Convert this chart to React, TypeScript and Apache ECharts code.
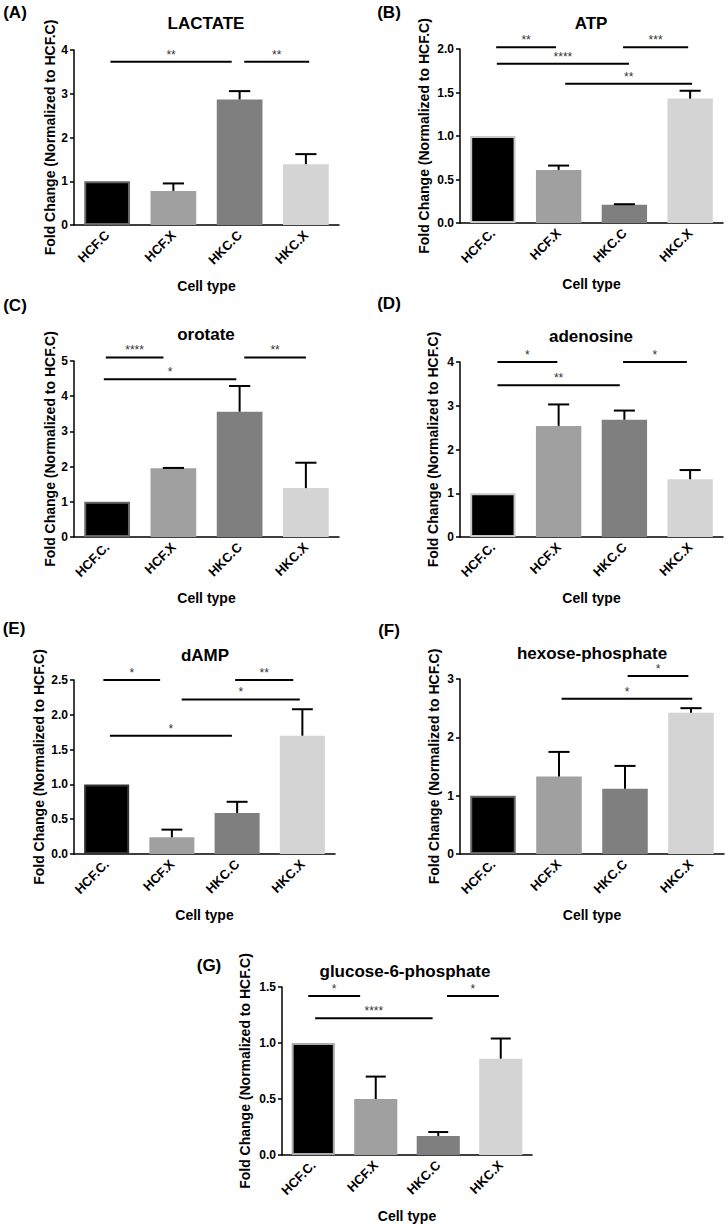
import React, { useEffect, useRef } from "react";
import * as echarts from "echarts";

// ---------- data ----------
const catsA = ["HCF.C", "HCF.X", "HKC.C", "HKC.X"];
const catsOther = ["HCF.C.", "HCF.X", "HKC.C", "HKC.X"];
const barColors = ["#000000", "#a0a0a0", "#7f7f7f", "#d4d4d4"];

const panelLabels = ["(A)", "(B)", "(C)", "(D)", "(E)", "(F)", "(G)"];
const panelTitles = ["LACTATE", "ATP", "orotate", "adenosine", "dAMP", "hexose-phosphate", "glucose-6-phosphate"];

const lactateMean = [1.0, 0.78, 2.87, 1.39];
const lactateSem = [0, 0.17, 0.19, 0.23];
const lactateSig = [[0.05, 1.88, 3.73], [2.07, 3.05, 3.73]];
const lactateStars = ["**", "**"];

const atpMean = [1.0, 0.61, 0.21, 1.43];
const atpSem = [0, 0.05, 0.006, 0.09];
const atpSig = [[0.05, 0.96, 2.02], [1.98, 2.97, 2.02], [0.06, 2.07, 1.83], [1.1, 3.03, 1.6]];
const atpStars = ["**", "***", "****", "**"];

const orotateMean = [1.0, 1.95, 3.56, 1.39];
const orotateSem = [0, 0.012, 0.73, 0.72];
const orotateSig = [[-0.02, 0.85, 5.1], [2.07, 3.0, 5.1], [-0.05, 1.95, 4.48]];
const orotateStars = ["****", "**", "*"];

const adenosineMean = [1.0, 2.54, 2.68, 1.32];
const adenosineSem = [0, 0.49, 0.21, 0.21];
const adenosineSig = [[0.07, 0.98, 4.0], [1.98, 2.95, 4.0], [0.07, 1.93, 3.47]];
const adenosineStars = ["*", "*", "**"];

const dampMean = [1.0, 0.24, 0.59, 1.7];
const dampSem = [0, 0.11, 0.16, 0.38];
const dampSig = [[-0.05, 0.82, 2.5], [1.97, 2.86, 2.5], [1.15, 2.96, 2.22], [0.05, 1.92, 1.7]];
const dampStars = ["*", "**", "*", "*"];

const hexoseMean = [1.0, 1.33, 1.12, 2.42];
const hexoseSem = [0, 0.42, 0.39, 0.08];
const hexoseSig = [[2.04, 2.96, 3.05], [1.04, 3.02, 2.66]];
const hexoseStars = ["*", "*"];

const g6pMean = [1.0, 0.5, 0.17, 0.86];
const g6pSem = [0, 0.2, 0.035, 0.18];
const g6pSig = [[-0.08, 0.75, 1.42], [2.14, 2.97, 1.42], [0.03, 1.91, 1.22]];
const g6pStars = ["*", "*", "****"];

const yMaxes = [4, 2, 5, 4, 2.5, 3, 1.5];
const yIntervals = [1, 0.5, 1, 1, 0.5, 1, 0.5];
const yDecimals = [0, 1, 0, 0, 1, 0, 1];

const yAxisTitle = "Fold Change (Normalized to HCF.C)";
const xAxisTitle = "Cell type";

// ---------- layout / style ----------
const FONT = "'Liberation Sans', Arial, sans-serif";
const layouts = [
  { left: 74, top: 50, width: 265, height: 175, nameGap: 17, label: [15, 12], title: [206, 23], border: "#666666" },
  { left: 460, top: 49, width: 263, height: 174, nameGap: 29, label: [389, 12], title: [591, 23], border: "#c8c8c8" },
  { left: 74, top: 361, width: 265, height: 176, nameGap: 17, label: [15, 305], title: [206, 334], border: "#666666" },
  { left: 460, top: 362, width: 263, height: 175, nameGap: 20, label: [389, 303], title: [591, 336], border: "#c8c8c8" },
  { left: 74, top: 680, width: 261, height: 174, nameGap: 28, label: [14, 628], title: [205, 655], border: "#333333" },
  { left: 460, top: 679, width: 264, height: 175, nameGap: 19, label: [389, 630], title: [592, 653], border: "#666666" },
  { left: 282, top: 987, width: 250, height: 168, nameGap: 30, label: [209, 965], title: [405, 971], border: "#aaaaaa" },
];

const panelsData = [
  { cats: catsA, mean: lactateMean, sem: lactateSem, sig: lactateSig, stars: lactateStars },
  { cats: catsOther, mean: atpMean, sem: atpSem, sig: atpSig, stars: atpStars },
  { cats: catsOther, mean: orotateMean, sem: orotateSem, sig: orotateSig, stars: orotateStars },
  { cats: catsOther, mean: adenosineMean, sem: adenosineSem, sig: adenosineSig, stars: adenosineStars },
  { cats: catsOther, mean: dampMean, sem: dampSem, sig: dampSig, stars: dampStars },
  { cats: catsOther, mean: hexoseMean, sem: hexoseSem, sig: hexoseSig, stars: hexoseStars },
  { cats: catsOther, mean: g6pMean, sem: g6pSem, sig: g6pSig, stars: g6pStars },
];

function buildOption() {
  const grid: any[] = [];
  const xAxis: any[] = [];
  const yAxis: any[] = [];
  const series: any[] = [];
  const graphic: any[] = [];

  panelsData.forEach((p, i) => {
    const L = layouts[i];
    grid.push({ left: L.left, top: L.top, width: L.width, height: L.height, containLabel: false });
    xAxis.push({
      type: "category",
      gridIndex: i,
      data: p.cats,
      axisLine: { onZero: false, lineStyle: { color: "#000", width: 1.5 } },
      axisTick: { alignWithLabel: true, length: 5, lineStyle: { color: "#000", width: 1.5 } },
      axisLabel: { rotate: 45, margin: 8, color: "#000", fontWeight: "bold", fontSize: 13, fontFamily: FONT },
      name: xAxisTitle,
      nameLocation: "middle",
      nameGap: 54,
      nameTextStyle: { color: "#000", fontWeight: "bold", fontSize: 14, fontFamily: FONT },
    });
    xAxis.push({ type: "value", gridIndex: i, min: -0.5, max: 3.5, show: false });
    const dec = yDecimals[i];
    yAxis.push({
      type: "value",
      gridIndex: i,
      min: 0,
      max: yMaxes[i],
      interval: yIntervals[i],
      axisLine: { show: true, onZero: false, lineStyle: { color: "#000", width: 1.5 } },
      axisTick: { show: true, length: 4, lineStyle: { color: "#000", width: 1.5 } },
      splitLine: { show: false },
      axisLabel: {
        margin: 6,
        color: "#000",
        fontWeight: "bold",
        fontSize: 12,
        fontFamily: FONT,
        formatter: (v: number) => v.toFixed(dec),
      },
      name: yAxisTitle,
      nameLocation: "middle",
      nameRotate: 90,
      nameGap: L.nameGap,
      nameTextStyle: { color: "#000", fontWeight: "bold", fontSize: 14, fontFamily: FONT },
    });

    series.push({
      type: "bar",
      xAxisIndex: 2 * i,
      yAxisIndex: i,
      barWidth: "69%",
      data: p.mean.map((v, j) => ({
        value: v,
        itemStyle: {
          color: barColors[j],
          borderColor: j === 0 ? L.border : barColors[j],
          borderWidth: j === 0 ? 2 : 0,
        },
      })),
    });

    series.push({
      type: "custom",
      xAxisIndex: 2 * i + 1,
      yAxisIndex: i,
      encode: { x: 0, y: [1, 2] },
      data: p.mean.map((m, j) => [j, m, m + p.sem[j]]),
      renderItem: (params: any, api: any) => {
        const x = api.value(0);
        const m = api.value(1);
        const top = api.value(2);
        if (!(top - m > 0)) return { type: "group", children: [] };
        const base = api.coord([x, m]);
        const tp = api.coord([x, top]);
        const bw = api.size([1, 0])[0];
        const half = bw * 0.16;
        return {
          type: "group",
          children: [
            { type: "line", shape: { x1: base[0], y1: base[1], x2: tp[0], y2: tp[1] }, style: { stroke: "#000", lineWidth: 2 } },
            { type: "line", shape: { x1: tp[0] - half, y1: tp[1], x2: tp[0] + half, y2: tp[1] }, style: { stroke: "#000", lineWidth: 2 } },
          ],
        };
      },
      z: 3,
    });

    series.push({
      type: "custom",
      xAxisIndex: 2 * i + 1,
      yAxisIndex: i,
      encode: { x: [0, 1], y: 2 },
      data: p.sig.map((s) => [s[0], s[1], s[2]]),
      renderItem: (params: any, api: any) => {
        const p1 = api.coord([api.value(0), api.value(2)]);
        const p2 = api.coord([api.value(1), api.value(2)]);
        return {
          type: "group",
          children: [
            { type: "line", shape: { x1: p1[0], y1: p1[1], x2: p2[0], y2: p2[1] }, style: { stroke: "#000", lineWidth: 2 } },
            {
              type: "text",
              x: (p1[0] + p2[0]) / 2,
              y: p1[1] - 7,
              style: {
                text: p.stars[params.dataIndex],
                textAlign: "center",
                textVerticalAlign: "middle",
                fill: "#333",
                font: `12px ${FONT}`,
              },
            },
          ],
        };
      },
      z: 4,
    });

    graphic.push({
      type: "text",
      x: L.label[0],
      y: L.label[1],
      style: { text: panelLabels[i], textAlign: "center", textVerticalAlign: "middle", fill: "#000", font: `bold 17px ${FONT}` },
    });
    graphic.push({
      type: "text",
      x: L.title[0],
      y: L.title[1],
      style: { text: panelTitles[i], textAlign: "center", textVerticalAlign: "middle", fill: "#000", font: `bold 17px ${FONT}` },
    });
  });

  return { animation: false, backgroundColor: "#fff", grid, xAxis, yAxis, series, graphic };
}

export default function App() {
  const ref = useRef<HTMLDivElement>(null);
  useEffect(() => {
    document.body.style.margin = "0";
    document.body.style.overflow = "hidden";
    if (!ref.current) return;
    const chart = echarts.init(ref.current, null, { renderer: "svg" });
    chart.setOption(buildOption() as any);
    return () => chart.dispose();
  }, []);
  return <div ref={ref} style={{ width: 726, height: 1225 }} />;
}
